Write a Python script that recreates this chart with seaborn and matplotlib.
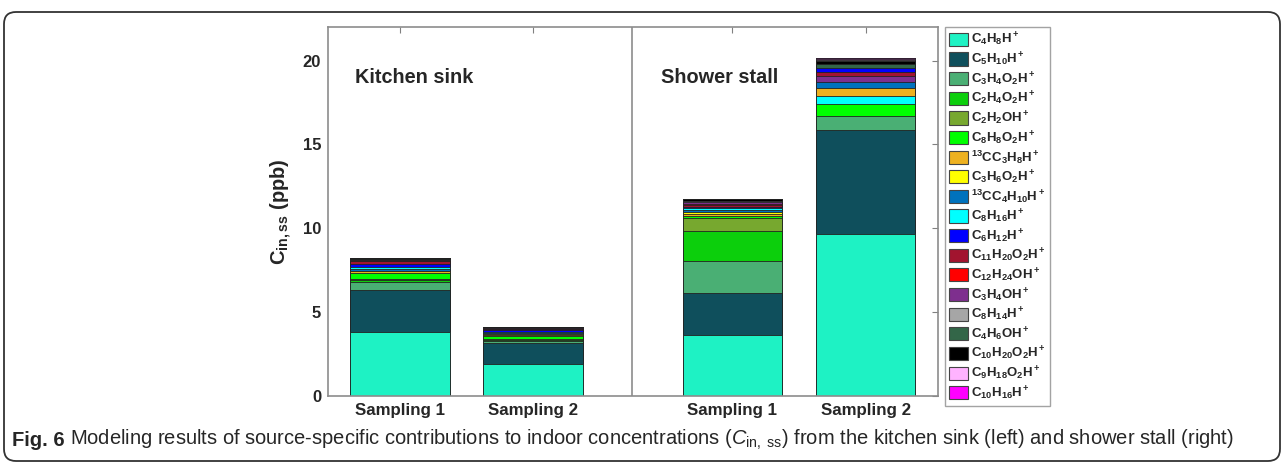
import numpy as np
import pandas as pd
import matplotlib
matplotlib.use("Agg")
from matplotlib import pyplot as plt
from matplotlib.patches import FancyBboxPatch, Patch
from matplotlib.transforms import IdentityTransform
import seaborn as sns

# species in legend order
species = ["C4H8H+", "C5H10H+", "C3H4O2H+", "C2H4O2H+", "C2H2OH+", "C8H8O2H+",
           "13CC3H8H+", "C3H6O2H+", "13CC4H10H+", "C8H16H+", "C6H12H+",
           "C11H20O2H+", "C12H24OH+", "C3H4OH+", "C8H14H+", "C4H6OH+",
           "C10H20O2H+", "C9H18O2H+", "C10H16H+"]
legend_labels = [r"$\mathbf{C_4H_8H^+}$", r"$\mathbf{C_5H_{10}H^+}$", r"$\mathbf{C_3H_4O_2H^+}$",
                 r"$\mathbf{C_2H_4O_2H^+}$", r"$\mathbf{C_2H_2OH^+}$", r"$\mathbf{C_8H_8O_2H^+}$",
                 r"$\mathbf{^{13}CC_3H_8H^+}$", r"$\mathbf{C_3H_6O_2H^+}$", r"$\mathbf{^{13}CC_4H_{10}H^+}$",
                 r"$\mathbf{C_8H_{16}H^+}$", r"$\mathbf{C_6H_{12}H^+}$", r"$\mathbf{C_{11}H_{20}O_2H^+}$",
                 r"$\mathbf{C_{12}H_{24}OH^+}$", r"$\mathbf{C_3H_4OH^+}$", r"$\mathbf{C_8H_{14}H^+}$",
                 r"$\mathbf{C_4H_6OH^+}$", r"$\mathbf{C_{10}H_{20}O_2H^+}$", r"$\mathbf{C_9H_{18}O_2H^+}$",
                 r"$\mathbf{C_{10}H_{16}H^+}$"]
colors = ["#1ef2c4", "#0f4f5c", "#4aaf74", "#0ccf0c", "#77a82f", "#00ff00",
          "#edb120", "#ffff00", "#0072bd", "#00ffff", "#0000ff",
          "#a2142f", "#ff0000", "#7e2f8e", "#a6a6a6", "#336648",
          "#000000", "#ffb3ff", "#ff00ff"]

tick_labels = ["Sampling 1", "Sampling 2", "Sampling 1", "Sampling 2"]
positions = [1, 2, 3.5, 4.5]

# contributions (ppb), legend order
kitchen_s1 = [3.84, 2.49, 0.46, 0.10, 0.10, 0.32, 0.12, 0.05, 0.12, 0.10,
              0.15, 0.17, 0.03, 0.05, 0.02, 0.03, 0.08, 0.01, 0.01]
kitchen_s2 = [1.91, 1.24, 0.15, 0.05, 0.05, 0.17, 0.08, 0.03, 0.07, 0.05,
              0.12, 0.06, 0.02, 0.03, 0.01, 0.02, 0.07, 0.005, 0.005]
shower_s1 = [3.66, 2.47, 1.89, 1.79, 0.83, 0.10, 0.12, 0.10, 0.10, 0.12,
             0.08, 0.15, 0.02, 0.15, 0.02, 0.05, 0.08, 0.01, 0.02]
shower_s2 = [9.63, 6.23, 0.81, 0.0, 0.0, 0.74, 0.44, 0.0, 0.37, 0.50,
             0.26, 0.24, 0.0, 0.34, 0.08, 0.22, 0.18, 0.04, 0.05]
# stacking order (bottom to top) differs for the last bar
default_order = list(range(len(species)))
shower_s2_order = [0, 1, 2, 5, 9, 6, 8, 13, 11, 10, 15, 16, 14, 17, 18, 3, 4, 7, 12]

bars = [(kitchen_s1, default_order), (kitchen_s2, default_order),
        (shower_s1, default_order), (shower_s2, shower_s2_order)]

rows = []
for pos, (vals, order) in zip(positions, bars):
    cum = 0.0
    n = len(order)
    for i, k in enumerate(order):
        cum += vals[k]
        rows.append({"pos": pos, "top": cum, "species": species[k], "rank": n - 1 - i})
df = pd.DataFrame(rows)
pal = dict(zip(species, colors))

sns.set_style("white")
plt.rcParams["font.family"] = ["Liberation Sans", "DejaVu Sans"]
plt.rcParams["mathtext.fontset"] = "custom"
plt.rcParams["mathtext.rm"] = "Liberation Sans"
plt.rcParams["mathtext.it"] = "Liberation Sans:italic"
plt.rcParams["mathtext.bf"] = "Liberation Sans:bold"

fig = plt.figure(figsize=(12.84, 4.63), dpi=100)
ax = fig.add_axes([328 / 1284, 1 - 396 / 463, (938 - 328) / 1284, (396 - 27) / 463])

# draw stacks from the top segment down so lower segments cover the upper bars
for r in range(len(species)):
    sub = df[df["rank"] == r]
    sns.barplot(data=sub, x="pos", y="top", hue="species", palette=pal,
                native_scale=True, dodge=False, width=0.75, errorbar=None,
                saturation=1, edgecolor="#222222", linewidth=0.6,
                legend=False, ax=ax)

ax.set_xlim(0.459, 5.045)
ax.set_ylim(0, 22)
ax.axvline(2.745, color="0.55", lw=1.2)
ax.set_xticks(positions)
ax.set_xticklabels(tick_labels, fontsize=12.2, fontweight="bold")
ax.set_yticks([0, 5, 10, 15, 20])
ax.set_yticklabels(["0", "5", "10", "15", "20"], fontsize=12, fontweight="bold")
ax.tick_params(direction="in", top=True, right=True, length=4, color="0.5", pad=5)
ax.set_xlabel("")
ax.set_ylabel(r"$\mathbf{C_{in,ss}}$ (ppb)", fontsize=14.5, fontweight="bold", labelpad=6)
for s in ax.spines.values():
    s.set_color("0.55")
    s.set_linewidth(1.2)

ax.text(0.66, 19.0, "Kitchen sink", fontsize=14.3, fontweight="bold", va="center")
ax.text(2.96, 19.0, "Shower stall", fontsize=14.3, fontweight="bold", va="center")

handles = [Patch(facecolor=c, edgecolor="#444444", linewidth=0.8) for c in colors]
leg = fig.legend(handles, legend_labels, loc="upper left",
                 bbox_to_anchor=(945 / 1284, 1 - 27 / 463), fontsize=9.5,
                 handlelength=1.45, handleheight=1.15, labelspacing=0.17,
                 handletextpad=0.25, borderpad=0.3, borderaxespad=0,
                 fancybox=False, frameon=True)
leg.get_frame().set_edgecolor("0.55")
leg.get_frame().set_linewidth(1.0)

# outer frame and caption
frame = FancyBboxPatch((4, 2), 1276, 449, boxstyle="round,pad=0,rounding_size=12",
                       transform=IdentityTransform(), facecolor="none",
                       edgecolor="#333333", linewidth=1.3)
fig.patches.append(frame)

t1 = fig.text(12 / 1284, 1 - 440 / 463, "Fig. 6", fontsize=14.5, fontweight="bold", va="center")
fig.canvas.draw()
bb = t1.get_window_extent()
fig.text((bb.x1 + 5) / 1284, 1 - 440 / 463,
         r"Modeling results of source-specific contributions to indoor concentrations "
         r"($C_{\mathrm{in,\ ss}}$) from the kitchen sink (left) and shower stall (right)",
         fontsize=14.5, va="center")

fig.savefig("out.png", dpi=100)
